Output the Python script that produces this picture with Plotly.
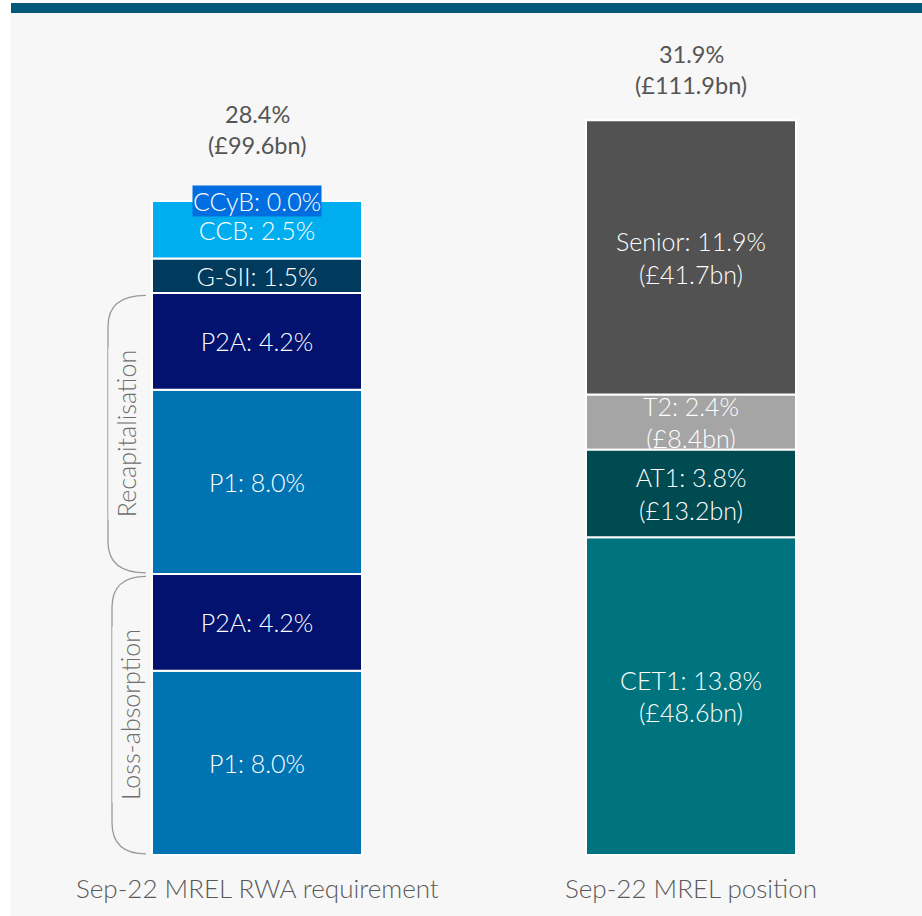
import plotly.graph_objects as go

# ---- data -------------------------------------------------------------
bar_names = ["Sep-22 MREL RWA requirement", "Sep-22 MREL position"]

req_labels = ["P1", "P2A", "P1", "P2A", "G-SII", "CCB", "CCyB"]
req_values = [8.0, 4.2, 8.0, 4.2, 1.5, 2.5, 0.0]
req_total_bn = 99.6

pos_labels = ["CET1", "AT1", "T2", "Senior"]
pos_values = [13.8, 3.8, 2.4, 11.9]
pos_bn = [48.6, 13.2, 8.4, 41.7]

# brace groups on the requirement bar: (label, first segment, last segment)
brace_groups = [("Loss-absorption", 0, 1), ("Recapitalisation", 2, 3)]

# ---- styling ----------------------------------------------------------
W, H = 922, 916
FONT = "Lato"
FS = 25
BG = "#f7f7f7"
req_colors = ["#0074b3", "#02126e", "#0074b3", "#02126e", "#003a5d", "#00aeef", "#006ee0"]
pos_colors = ["#00747e", "#004a51", "#a5a5a5", "#525252"]

PPU = 23.03            # pixels per percentage point
ZERO_PX = 855          # pixel row of the zero line
X0_PX, STEP_PX = 257, 434
BAR_PX = 210


def cum(values):
    out, s = [], 0.0
    for v in values:
        out.append(s)
        s += v
    return out


req_base = cum(req_values)
pos_base = cum(pos_values)

fig = go.Figure()


def add_segment(x, base, value, color, text):
    fig.add_trace(go.Bar(
        x=[x], y=[value], base=[base], width=[BAR_PX / STEP_PX],
        marker=dict(color=color, line=dict(color="white", width=2)),
        text=[text], textposition="inside", insidetextanchor="middle",
        textangle=0,
        textfont=dict(family=FONT, size=FS, color="white", weight=300),
        hoverinfo="skip", showlegend=False, cliponaxis=False,
    ))


# requirement bar (the zero-height CCyB buffer is labelled separately)
for lab, v, b, c in zip(req_labels, req_values, req_base, req_colors):
    if v > 0:
        add_segment(0, b, v, c, f"{lab}: {v:.1f}%")

# position bar; T2 goes first so the neighbouring blocks sit over its label
order = sorted(range(len(pos_labels)), key=lambda i: 0 if pos_labels[i] == "T2" else 1)
for i in order:
    add_segment(1, pos_base[i], pos_values[i], pos_colors[i],
                f"{pos_labels[i]}: {pos_values[i]:.1f}%<br>(£{pos_bn[i]:.1f}bn)")

req_total = sum(req_values)
pos_total = sum(pos_values)
pos_total_bn = sum(pos_bn)

annotations = []

# CCyB highlighted label on top of the requirement bar
ccyb = req_labels.index("CCyB")
annotations.append(dict(
    x=0, y=req_base[ccyb], xref="x", yref="y",
    text=f"{req_labels[ccyb]}: {req_values[ccyb]:.1f}%",
    showarrow=False, bgcolor=req_colors[ccyb], borderpad=0,
    font=dict(family=FONT, size=FS, color="white", weight=300),
    yanchor="middle", yshift=0,
))

# totals above each bar, one annotation per line
for x, tot, bn, shift in [(0, req_total, req_total_bn, 56), (1, pos_total, pos_total_bn, 35)]:
    for line, extra in [(f"{tot:.1f}%", 31), (f"(£{bn:.1f}bn)", 0)]:
        annotations.append(dict(
            x=x, y=tot, xref="x", yref="y", text=line,
            showarrow=False, yanchor="middle", yshift=shift + extra,
            font=dict(family=FONT, size=23.5, color="#555555", weight=400),
        ))

# category names under the bars
for x, name in enumerate(bar_names):
    annotations.append(dict(
        x=x, y=0, xref="x", yref="y", text=name, showarrow=False,
        yanchor="middle", yshift=-33,
        font=dict(family=FONT, size=26, color="#5a5a5a", weight=300),
    ))

shapes = [
    # panel background and header band
    dict(type="rect", xref="paper", yref="paper", x0=11 / W, x1=1,
         y0=0, y1=1 - 13 / H, fillcolor=BG, line=dict(width=0), layer="below"),
    dict(type="rect", xref="paper", yref="paper", x0=11 / W, x1=1,
         y0=1 - 13 / H, y1=1 - 3 / H, fillcolor="#005a7a", line=dict(width=0),
         layer="below"),
]

# bracket annotations alongside the requirement bar
tip_x = 146 / W
line_xs = {"Recapitalisation": 108 / W, "Loss-absorption": 112 / W}
r_y = 1.35
for lab, i0, i1 in brace_groups:
    lo = req_base[i0] + 0.05
    hi = req_base[i1] + req_values[i1] - 0.1
    lx = line_xs[lab]
    path = (f"M {tip_x},{hi} Q {lx},{hi} {lx},{hi - r_y} "
            f"L {lx},{lo + r_y} Q {lx},{lo} {tip_x},{lo}")
    shapes.append(dict(type="path", xref="paper", yref="y", path=path,
                       line=dict(color="#9a9a9a", width=1.3)))
    annotations.append(dict(
        x=lx, y=(lo + hi) / 2, xref="paper", yref="y", text=lab,
        textangle=-90, showarrow=False, bgcolor=BG, borderpad=2,
        font=dict(family=FONT, size=FS, color="#6e6e6e", weight=300),
    ))

fig.update_layout(
    width=W, height=H,
    margin=dict(l=0, r=0, t=0, b=0),
    paper_bgcolor="white", plot_bgcolor="white",
    barmode="overlay",
    uniformtext=dict(minsize=FS, mode="show"),
    xaxis=dict(range=[-X0_PX / STEP_PX, (W - X0_PX) / STEP_PX], visible=False,
               fixedrange=True),
    yaxis=dict(range=[-(H - ZERO_PX) / PPU, ZERO_PX / PPU], visible=False,
               fixedrange=True),
    shapes=shapes,
    annotations=annotations,
)

fig.write_html("out.html")
